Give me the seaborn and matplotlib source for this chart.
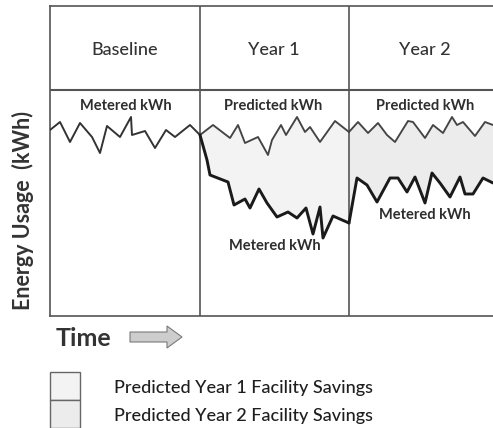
import numpy as np
import matplotlib
matplotlib.use("Agg")
import matplotlib.pyplot as plt
import matplotlib.patches as mpatches
import seaborn as sns

# time axis in arbitrary units, energy in arbitrary units
base_t = [0, 10, 20, 30, 42, 50, 57, 70, 81, 82, 95, 105, 116, 125, 140, 150]
base_e = [186, 194, 174, 193, 179, 163, 190, 179, 199, 181, 185, 168, 186, 179, 191, 181]

pred1_t = [150, 163, 180, 188, 195, 208, 218, 222, 231, 236, 247, 255, 260, 270, 285, 299]
pred1_e = [181, 191, 178, 191, 173, 179, 161, 176, 191, 181, 199, 184, 189, 174, 195, 184]

pred2_t = [299, 308, 318, 328, 337, 345, 358, 363, 375, 383, 393, 402, 407, 413, 425, 435, 443]
pred2_e = [184, 194, 183, 193, 181, 174, 195, 194, 178, 191, 183, 199, 191, 194, 180, 194, 191]

met1_t = [150, 157, 160, 178, 184, 195, 200, 209, 217, 227, 238, 247, 256, 263, 270, 273, 283, 299]
met1_e = [181, 156, 141, 134, 111, 117, 108, 127, 113, 99, 104, 98, 108, 82, 109, 78, 100, 93]

met2_t = [299, 307, 317, 327, 340, 348, 357, 365, 375, 382, 390, 400, 410, 415, 423, 433, 443]
met2_e = [93, 138, 131, 114, 138, 138, 124, 139, 113, 143, 133, 119, 139, 122, 122, 138, 133]

periods = ["Baseline", "Year 1", "Year 2"]
legend_labels = ["Predicted Year 1 Facility Savings", "Predicted Year 2 Facility Savings"]

sns.set_style("white")
plt.rcParams['font.family'] = ['Lato', 'DejaVu Sans']

W, H = 493, 428
fig = plt.figure(figsize=(W / 100, H / 100), dpi=100)
ax = fig.add_axes([50 / W, (H - 316) / H, 450 / W, 310 / H])
ax.set_xlim(0, 450)
ax.set_ylim(0, 310)

fill1 = "#f3f3f3"
fill2 = "#ececec"
frame = "#555555"

# savings areas between predicted and metered
ax.fill(np.r_[pred1_t, met1_t[::-1]], np.r_[pred1_e, met1_e[::-1]], color=fill1, lw=0, zorder=1)
ax.fill(np.r_[pred2_t, met2_t[::-1]], np.r_[pred2_e, met2_e[::-1]], color=fill2, lw=0, zorder=1)

# lines
for t, e, c, w in [(base_t, base_e, "#333333", 1.4),
                   (pred1_t, pred1_e, "#444444", 1.35),
                   (pred2_t, pred2_e, "#444444", 1.35),
                   (met1_t, met1_e, "#1a1a1a", 2.1),
                   (met2_t, met2_e, "#1a1a1a", 2.1)]:
    sns.lineplot(x=t, y=e, ax=ax, color=c, lw=w, estimator=None, sort=False, zorder=3)

# grid frame
ax.axhline(226, color=frame, lw=1.5, zorder=2)
ax.axvline(150, color=frame, lw=1.2, zorder=2)
ax.axvline(299, color=frame, lw=1.2, zorder=2)
for s in ax.spines.values():
    s.set_visible(True)
    s.set_color(frame)
    s.set_linewidth(1.2)
ax.set_xticks([])
ax.set_yticks([])

# header texts
for x, lab in zip([75, 224, 375], periods):
    ax.text(x, 266, lab, ha="center", va="center", fontsize=13, fontweight="medium",
            color="#333333")

lab_kw = dict(ha="center", va="center", fontsize=10.5, fontweight="bold", color="#2e2e2e")
ax.text(76, 210, "Metered kWh", **lab_kw)
ax.text(223, 210, "Predicted kWh", **lab_kw)
ax.text(375, 210, "Predicted kWh", **lab_kw)
ax.text(225, 70, "Metered kWh", **lab_kw)
ax.text(375, 101, "Metered kWh", **lab_kw)

# axis titles
fig.text(23 / W, 1 - 210 / H, "Energy Usage  (kWh)", rotation=90, ha="center", va="center",
         fontsize=15.5, fontweight="bold", color="#333333")
fig.text(56 / W, 1 - 338 / H, "Time", ha="left", va="center", fontsize=18,
         fontweight="bold", color="#333333")
arrow = mpatches.FancyArrow(130 / W, 1 - 337 / H, 52 / W, 0, width=10 / H, head_width=22 / H,
                            head_length=15 / W, length_includes_head=True,
                            facecolor="#cdcdcd", edgecolor="#7a7a7a", lw=0.8,
                            transform=fig.transFigure)
fig.add_artist(arrow)

# legend
for i, (lab, fc) in enumerate(zip(legend_labels, [fill1, fill2])):
    top = 372 + 28 * i
    rect = mpatches.Rectangle((50 / W, 1 - (top + 28) / H), 30 / W, 28 / H,
                              facecolor=fc, edgecolor="#666666", lw=1.0,
                              transform=fig.transFigure)
    fig.add_artist(rect)
    fig.text(114 / W, 1 - (388 + 28 * i) / H, lab, ha="left", va="center",
             fontsize=13, fontweight="medium", color="#1e1e1e")

fig.savefig("out.png", dpi=100)
